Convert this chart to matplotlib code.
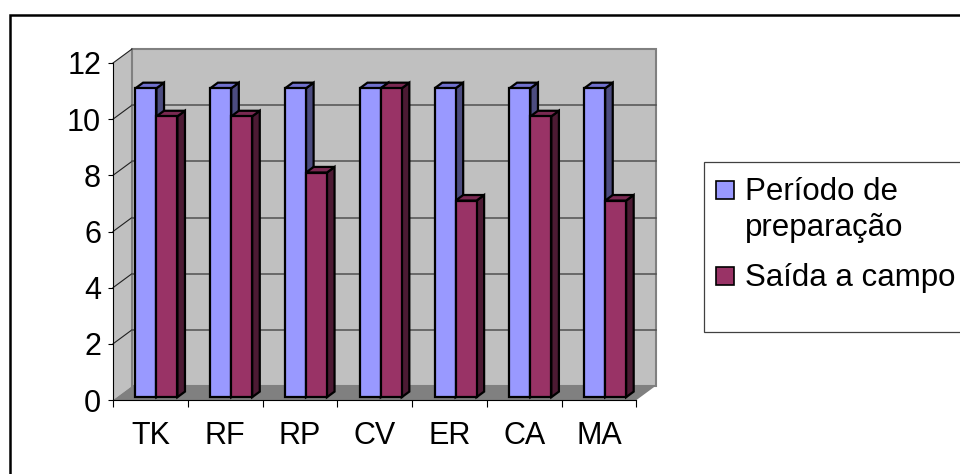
import matplotlib
matplotlib.use("Agg")
import matplotlib.pyplot as plt
from matplotlib.patches import Polygon, Rectangle
import numpy as np

categories = ["TK", "RF", "RP", "CV", "ER", "CA", "MA"]
preparacao = [11, 11, 11, 11, 11, 11, 11]
saida_campo = [10, 10, 8, 11, 7, 10, 7]
series_names = ["Período de\npreparação", "Saída a campo"]
y_ticks = [0, 2, 4, 6, 8, 10, 12]

plt.rcParams['font.family'] = ['Liberation Sans', 'DejaVu Sans']

W, H = 960, 474
fig = plt.figure(figsize=(W / 100, H / 100), dpi=100)
fig.patch.set_facecolor('white')


def fx(px):
    return px / W


def fy(py):
    return 1 - py / H


# front plane of the 3-D box
ax = fig.add_axes([fx(113), fy(400), (636.5 - 113) / W, (400 - 63) / H])
n = len(categories)
ax.set_xlim(-0.5, n - 0.5)
ax.set_ylim(0, 12)
ax.patch.set_visible(False)

# depth vector (full depth of the box) expressed in data units
origin = ax.transData.transform((0, 0))
DX, DY = ax.transData.inverted().transform(origin + np.array([19.0, 14.0]))


def pt(x, y, d):
    return (x + d * DX, y + d * DY)


def poly(points, **kw):
    p = Polygon(points, closed=True, clip_on=False, **kw)
    ax.add_patch(p)
    return p


xl, xr = -0.5, n - 0.5
ymax = y_ticks[-1]
wall = '#C0C0C0'
floor = '#808080'

# walls and floor
poly([pt(xl, 0, 0), pt(xl, ymax, 0), pt(xl, ymax, 1), pt(xl, 0, 1)],
     facecolor=wall, edgecolor='none', zorder=0.5)
poly([pt(xl, 0, 1), pt(xr, 0, 1), pt(xr, ymax, 1), pt(xl, ymax, 1)],
     facecolor=wall, edgecolor='#808080', linewidth=1.5, zorder=0.5)
poly([pt(xl, 0, 0), pt(xr, 0, 0), pt(xr, 0, 1), pt(xl, 0, 1)],
     facecolor=floor, edgecolor='none', zorder=0.6)

# gridlines on side wall and back wall
for v in y_ticks[1:]:
    a, b = pt(xl, v, 0), pt(xl, v, 1)
    ax.plot([a[0], b[0]], [a[1], b[1]], color='#202020', lw=0.8,
            clip_on=False, zorder=0.7)
    if v < ymax:
        c = pt(xr, v, 1)
        ax.plot([b[0], c[0]], [b[1], c[1]], color='#505050', lw=1.1,
                clip_on=False, zorder=0.7)

# 3-D bars
series = [
    (preparacao, -0.25, 0.03, ('#9999FF', '#7070CC', '#4C4C80')),
    (saida_campo, 0.03, 0.31, ('#993366', '#7A2952', '#4C1A33')),
]
d0, d1 = 0.2, 0.6
for i in range(n):
    for values, o0, o1, (c_front, c_top, c_side) in series:
        v = values[i]
        x0, x1 = i + o0, i + o1
        kw = dict(edgecolor='black', linewidth=1.6, joinstyle='miter', zorder=3)
        poly([pt(x1, 0, d0), pt(x1, 0, d1), pt(x1, v, d1), pt(x1, v, d0)],
             facecolor=c_side, **kw)
        poly([pt(x0, v, d0), pt(x1, v, d0), pt(x1, v, d1), pt(x0, v, d1)],
             facecolor=c_top, **kw)
        poly([pt(x0, 0, d0), pt(x1, 0, d0), pt(x1, v, d0), pt(x0, v, d0)],
             facecolor=c_front, **kw)

# axes
for s in ('top', 'right'):
    ax.spines[s].set_visible(False)
for s in ('left', 'bottom'):
    ax.spines[s].set_color('black')
    ax.spines[s].set_linewidth(0.8)
    ax.spines[s].set_zorder(2)

ax.set_yticks(y_ticks)
ax.set_yticklabels([str(t) for t in y_ticks])
ax.tick_params(axis='y', direction='out', length=3.6, width=0.8, pad=5,
               labelsize=22, colors='black')
ax.set_xticks(range(n))
ax.set_xticklabels(categories)
ax.set_xticks(np.arange(-0.5, n, 1.0), minor=True)
ax.tick_params(axis='x', which='major', length=0, pad=15, labelsize=22)
ax.tick_params(axis='x', which='minor', direction='out', length=5, width=0.8)

# outer frame
fig.add_artist(Rectangle((fx(9.5), fy(500)), fx(980) - fx(9.5), fy(15) - fy(500),
                         transform=fig.transFigure, facecolor='none',
                         edgecolor='black', linewidth=1.8))

# legend
fig.add_artist(Rectangle((fx(703.5), fy(332)), fx(990) - fx(703.5), fy(162) - fy(332),
                         transform=fig.transFigure, facecolor='white',
                         edgecolor='#404040', linewidth=0.9))
legend_colors = [series[0][3][0], series[1][3][0]]
square_tops = [181, 267]
line_baselines = [[200, 236], [286]]
for name, col, top, bases in zip(series_names, legend_colors, square_tops, line_baselines):
    fig.add_artist(Rectangle((fx(716), fy(top + 18)), 18 / W, 18 / H,
                             transform=fig.transFigure, facecolor=col,
                             edgecolor='black', linewidth=1.2))
    for line, b in zip(name.split('\n'), bases):
        fig.text(fx(745), fy(b), line, fontsize=22.5, va='baseline', ha='left',
                 color='black')

fig.savefig('out.png', dpi=100, facecolor='white')
